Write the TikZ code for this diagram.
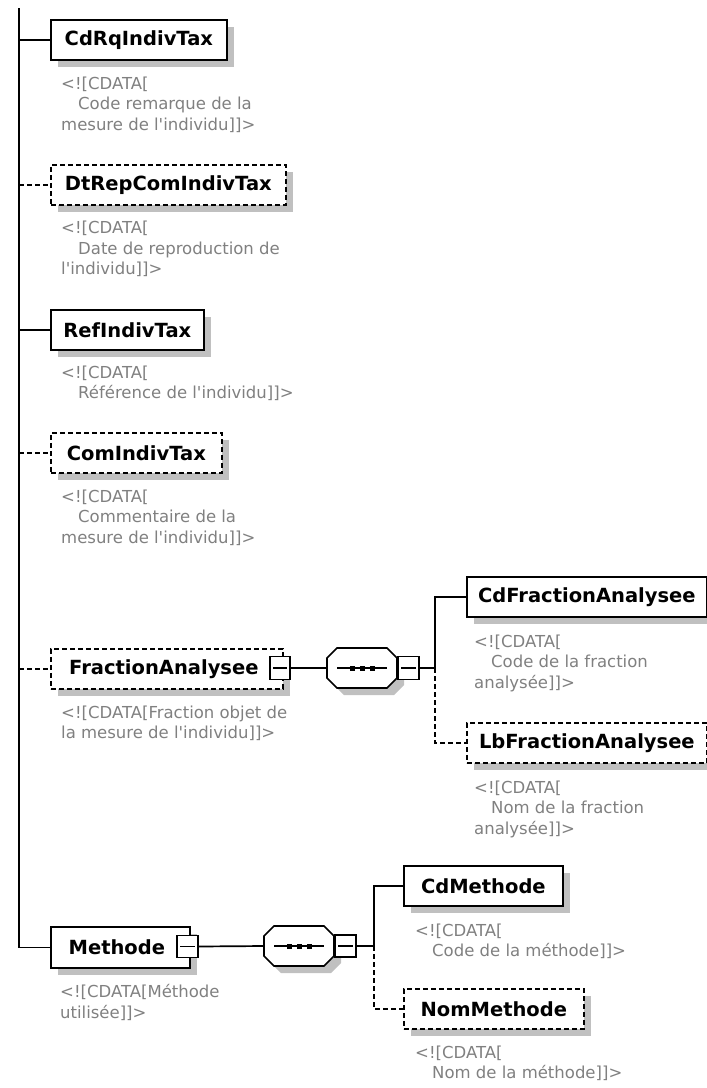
\documentclass[tikz,border=0pt]{standalone}
\usepackage{fontspec}
\setmainfont{DejaVu Sans}
\usetikzlibrary{shadows}
\definecolor{annotgray}{RGB}{128,128,128}
\definecolor{shadowgray}{RGB}{192,192,192}
\tikzset{
  conn/.style={line width=1.7pt, black},
  optline/.style={dash pattern=on 5pt off 3pt},
  elem/.style={draw=black, line width=1.7pt, fill=white, anchor=north west, inner sep=0pt,
    minimum height=40pt, font=\fontsize{19.5}{22}\selectfont\bfseries,
    drop shadow={shadow xshift=7pt, shadow yshift=-7pt, fill=shadowgray, opacity=1}},
  optelem/.style={elem, optline},
  annot/.style={anchor=north west, inner sep=0pt, align=left, text=annotgray,
    font=\fontsize{16.5}{20.5}\selectfont},
  minusbox/.style={draw=black, line width=1.4pt, fill=white, inner sep=0pt,
    minimum width=21pt, minimum height=23pt},
  seqframe/.style={inner sep=0pt, minimum width=70pt, minimum height=40pt}
}
\newcommand\minusmark[1]{\draw[line width=1.4pt] ([xshift=4pt]#1.west) -- ([xshift=-4pt]#1.east);}
\newcommand\octagonat[1]{%
  \begin{scope}[shift={(#1.center)}]
    \fill[shadowgray] (-28,-3) -- (-18,-13) -- (32,-13) -- (42,-3) -- (42,17) -- (32,27) -- (-18,27) -- (-28,17) -- cycle;
    \draw[conn, fill=white] (-35,-10) -- (-25,-20) -- (25,-20) -- (35,-10) -- (35,10) -- (25,20) -- (-25,20) -- (-35,10) -- cycle;
    \draw[line width=1.4pt] (-25,0) -- (25,0);
    \fill (-12.5,-2.5) rectangle (-7.5,2.5);
    \fill (-2.5,-2.5) rectangle (2.5,2.5);
    \fill (7.5,-2.5) rectangle (12.5,2.5);
  \end{scope}}
\begin{document}
\begin{tikzpicture}[x=1pt,y=-1pt]
\useasboundingbox (0,0) rectangle (707,1088);

% element boxes
\node[elem, minimum width=176pt] (cdrq) at (50,19) {CdRqIndivTax};
\node[optelem, minimum width=235pt] (dtrep) at (50,164) {DtRepComIndivTax};
\node[elem, minimum width=153pt] (ref) at (50,309) {RefIndivTax};
\node[optelem, minimum width=171pt] (com) at (50,432) {ComIndivTax};
\node[optelem, minimum width=232pt] (frac) at (50,648) {FractionAnalysee\hspace*{6pt}};
\node[elem, minimum width=240pt] (cdfrac) at (466,576) {CdFractionAnalysee};
\node[optelem, minimum width=240pt] (lbfrac) at (466,722) {LbFractionAnalysee};
\node[elem, minimum width=139pt, minimum height=41pt] (meth) at (50,926) {Methode\hspace*{7pt}};
\node[elem, minimum width=159pt] (cdmeth) at (403,865) {CdMethode};
\node[optelem, minimum width=180pt] (nommeth) at (403,988) {NomMethode};

% expand boxes
\node[minusbox, minimum width=20pt] (mfrac) at (280,668) {};
\minusmark{mfrac}
\node[minusbox, minimum height=22pt] (mmeth) at (187.5,946.5) {};
\minusmark{mmeth}

% sequence compositors
\node[seqframe] (seq1) at (362,668) {};
\octagonat{seq1}
\node[minusbox, anchor=west] (mseq1) at (seq1.east) {};
\minusmark{mseq1}
\node[seqframe] (seq2) at (299,946) {};
\octagonat{seq2}
\node[minusbox, minimum height=22pt, anchor=west] (mseq2) at (seq2.east) {};
\minusmark{mseq2}

% connectors
\coordinate (top) at (19,8);
\coordinate (br1) at (435,668);
\coordinate (br2) at (374,946);
\draw[conn] (top) |- (meth.west);
\draw[conn] (cdrq.west -| top) -- (cdrq.west);
\draw[conn, optline] (dtrep.west -| top) -- (dtrep.west);
\draw[conn] (ref.west -| top) -- (ref.west);
\draw[conn, optline] (com.west -| top) -- (com.west);
\draw[conn, optline] (frac.west -| top) -- (frac.west);
\draw[conn] (mfrac.east) -- (seq1.west);
\draw[conn] (mseq1.east) -- (br1);
\draw[conn] (br1) |- (cdfrac.west);
\draw[conn, optline] (br1) |- (lbfrac.west);
\draw[conn] (mmeth.east) -- (seq2.west);
\draw[conn] (mseq2.east) -- (br2);
\draw[conn] (br2) |- (cdmeth.west);
\draw[conn, optline] (br2) |- (nommeth.west);

% annotations
\node[annot] (n1) at (61,76.5) {<![CDATA[\\\hspace*{17pt}Code remarque de la\\mesure de l\textquotesingle individu]]>};
\node[annot] (n2) at (61,221) {<![CDATA[\\\hspace*{17pt}Date de reproduction de\\l\textquotesingle individu]]>};
\node[annot] (n3) at (61,365.5) {<![CDATA[\\\hspace*{17pt}Référence de l\textquotesingle individu]]>};
\node[annot] (n4) at (61,489.5) {<![CDATA[\\\hspace*{17pt}Commentaire de la\\mesure de l\textquotesingle individu]]>};
\node[annot] (n5) at (61,705.5) {<![CDATA[Fraction objet de\\la mesure de l\textquotesingle individu]]>};
\node[annot] (n6) at (474,634.5) {<![CDATA[\\\hspace*{17pt}Code de la fraction\\analysée]]>};
\node[annot] (n7) at (474,780.5) {<![CDATA[\\\hspace*{17pt}Nom de la fraction\\analysée]]>};
\node[annot] (n8) at (60,984.5) {<![CDATA[Méthode\\utilisée]]>};
\node[annot] (n9) at (415,923.5) {<![CDATA[\\\hspace*{17pt}Code de la méthode]]>};
\node[annot] (n10) at (415,1045.5) {<![CDATA[\\\hspace*{17pt}Nom de la méthode]]>};
\end{tikzpicture}
\end{document}
